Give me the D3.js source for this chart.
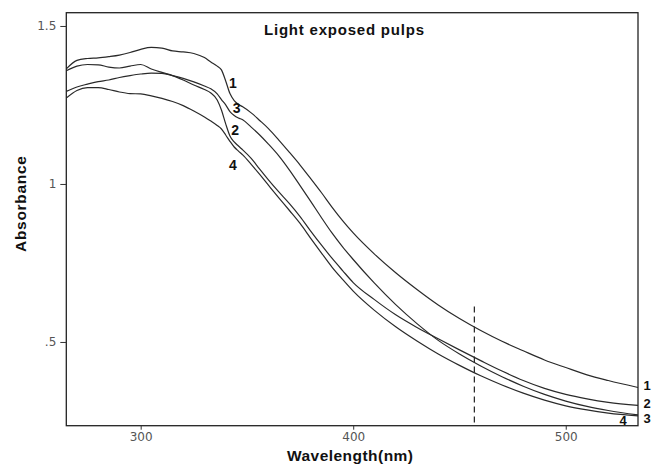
<!DOCTYPE html>
<html>
<head>
<meta charset="utf-8">
<script src="https://cdn.jsdelivr.net/npm/d3@7"></script>
<style>
body { margin: 0; background: #fff; }
.axis text { font-family: "DejaVu Sans", sans-serif; font-size: 12px; fill: #555; }
.axis line { stroke: #333; }
.axis path { display: none; }
.frame { fill: none; stroke: #222; stroke-width: 1.3; }
.curve { fill: none; stroke: #2a2a2a; stroke-width: 1.2; }
.lbl { font-family: "Liberation Sans", Arial, sans-serif; font-weight: bold; fill: #111; }
</style>
</head>
<body>
<svg width="662" height="467"></svg>
<script>
// spectra (nm / absorbance)
var wavelength = [265, 270, 275, 280, 285, 290, 295, 300, 305, 310, 315, 320, 325, 330, 333, 336, 338, 340, 342, 344,
                  346, 348, 352, 356, 360, 365, 370, 375, 380, 385, 390, 395, 400, 410, 420, 430, 440, 450, 460, 470,
                  480, 490, 500, 510, 520, 534];
var pulp1 = [1.364, 1.391, 1.397, 1.399, 1.403, 1.408, 1.416, 1.426, 1.432, 1.430, 1.421, 1.418, 1.413, 1.400, 1.386, 1.373, 1.361, 1.326, 1.286, 1.264,
             1.252, 1.244, 1.225, 1.201, 1.176, 1.139, 1.100, 1.060, 1.017, 0.973, 0.927, 0.884, 0.845, 0.778, 0.719, 0.666, 0.617, 0.574, 0.536, 0.502,
             0.472, 0.443, 0.419, 0.396, 0.378, 0.356];
var pulp2 = [1.358, 1.373, 1.378, 1.377, 1.370, 1.367, 1.373, 1.378, 1.364, 1.353, 1.343, 1.329, 1.313, 1.299, 1.288, 1.266, 1.234, 1.190, 1.152, 1.133,
             1.120, 1.108, 1.081, 1.047, 1.014, 0.975, 0.938, 0.897, 0.851, 0.807, 0.765, 0.726, 0.688, 0.634, 0.586, 0.546, 0.510, 0.475, 0.441, 0.408,
             0.378, 0.353, 0.334, 0.320, 0.309, 0.299];
var pulp3 = [1.293, 1.307, 1.316, 1.324, 1.329, 1.337, 1.343, 1.348, 1.351, 1.350, 1.343, 1.334, 1.323, 1.310, 1.301, 1.285, 1.267, 1.250, 1.229, 1.217,
             1.209, 1.203, 1.180, 1.155, 1.127, 1.089, 1.044, 0.995, 0.945, 0.894, 0.845, 0.801, 0.761, 0.686, 0.618, 0.558, 0.505, 0.462, 0.424, 0.390,
             0.360, 0.334, 0.313, 0.296, 0.283, 0.269];
var pulp4 = [1.272, 1.296, 1.305, 1.305, 1.299, 1.291, 1.286, 1.285, 1.279, 1.271, 1.261, 1.248, 1.231, 1.212, 1.199, 1.185, 1.174, 1.155, 1.135, 1.117,
             1.104, 1.092, 1.062, 1.030, 0.997, 0.956, 0.916, 0.875, 0.828, 0.782, 0.737, 0.698, 0.661, 0.600, 0.548, 0.503, 0.462, 0.426, 0.393, 0.364,
             0.338, 0.316, 0.298, 0.285, 0.275, 0.266];

var curveNames = ["1", "2", "3", "4"];
// where the numbers sit, in data units [nm, absorbance]
var leftLabelAt = [[343.4, 1.320], [344.4, 1.171], [345.2, 1.241], [343.4, 1.060]];
var rightLabelAt = [[538.3, 0.364], [538.3, 0.307], [538.3, 0.259], [527.0, 0.253]];

var xTicks = [300, 400, 500];
var yTicks = [0.5, 1, 1.5];
var yTickLabels = [".5", "1", "1.5"];
var markerNm = 457, markerTop = 0.612;

var svg = d3.select("svg"),
    margin = {top: 12.7, right: 24, bottom: 41.3, left: 66.3},
    width = +svg.attr("width") - margin.left - margin.right,
    height = +svg.attr("height") - margin.top - margin.bottom;

var x = d3.scaleLinear().domain([265, 534]).range([0, width]),
    y = d3.scaleLinear().domain([0.235, 1.542]).range([height, 0]);

var g = svg.append("g")
    .attr("transform", "translate(" + margin.left + "," + margin.top + ")");

var series = [pulp1, pulp2, pulp3, pulp4].map(function(vals) {
  return vals.map(function(v, i) { return {nm: wavelength[i], a: v}; });
});

var line = d3.line()
    .curve(d3.curveMonotoneX)
    .x(function(d) { return x(d.nm); })
    .y(function(d) { return y(d.a); });

g.selectAll(".curve")
  .data(series)
  .enter().append("path")
    .attr("class", "curve")
    .attr("d", line);

// dashed marker
g.append("line")
    .attr("x1", x(markerNm)).attr("x2", x(markerNm))
    .attr("y1", y(markerTop)).attr("y2", height)
    .attr("stroke", "#222")
    .attr("stroke-width", 1.2)
    .attr("stroke-dasharray", "6,4");

g.append("rect")
    .attr("class", "frame")
    .attr("width", width)
    .attr("height", height);

g.append("g")
    .attr("class", "axis")
    .call(d3.axisLeft(y).tickValues(yTicks)
      .tickFormat(function(d, i) { return yTickLabels[i]; })
      .tickSize(6).tickPadding(4));

g.append("g")
    .attr("class", "axis")
    .attr("transform", "translate(0," + height + ")")
    .call(d3.axisBottom(x).tickValues(xTicks).tickFormat(d3.format("d"))
      .tickSize(4).tickPadding(3));

g.selectAll(".llab")
  .data(leftLabelAt)
  .enter().append("text")
    .attr("class", "lbl")
    .attr("font-size", 14)
    .attr("text-anchor", "middle")
    .attr("x", function(d) { return x(d[0]); })
    .attr("y", function(d) { return y(d[1]); })
    .attr("dy", "0.36em")
    .text(function(d, i) { return curveNames[i]; });

g.selectAll(".rlab")
  .data(rightLabelAt)
  .enter().append("text")
    .attr("class", "lbl")
    .attr("font-size", 13)
    .attr("text-anchor", "middle")
    .attr("x", function(d) { return x(d[0]); })
    .attr("y", function(d) { return y(d[1]); })
    .attr("dy", "0.36em")
    .text(function(d, i) { return curveNames[i]; });

svg.append("text")
    .attr("class", "lbl")
    .attr("font-size", 15)
    .attr("x", 264).attr("y", 35)
    .attr("textLength", 160)
    .text("Light exposed pulps");

svg.append("text")
    .attr("class", "lbl")
    .attr("font-size", 15.5)
    .attr("text-anchor", "middle")
    .attr("x", 350).attr("y", 461)
    .attr("textLength", 126)
    .text("Wavelength(nm)");

svg.append("text")
    .attr("class", "lbl")
    .attr("font-size", 15.5)
    .attr("text-anchor", "middle")
    .attr("transform", "translate(26,204) rotate(-90)")
    .attr("textLength", 96)
    .text("Absorbance");
</script>
</body>
</html>
